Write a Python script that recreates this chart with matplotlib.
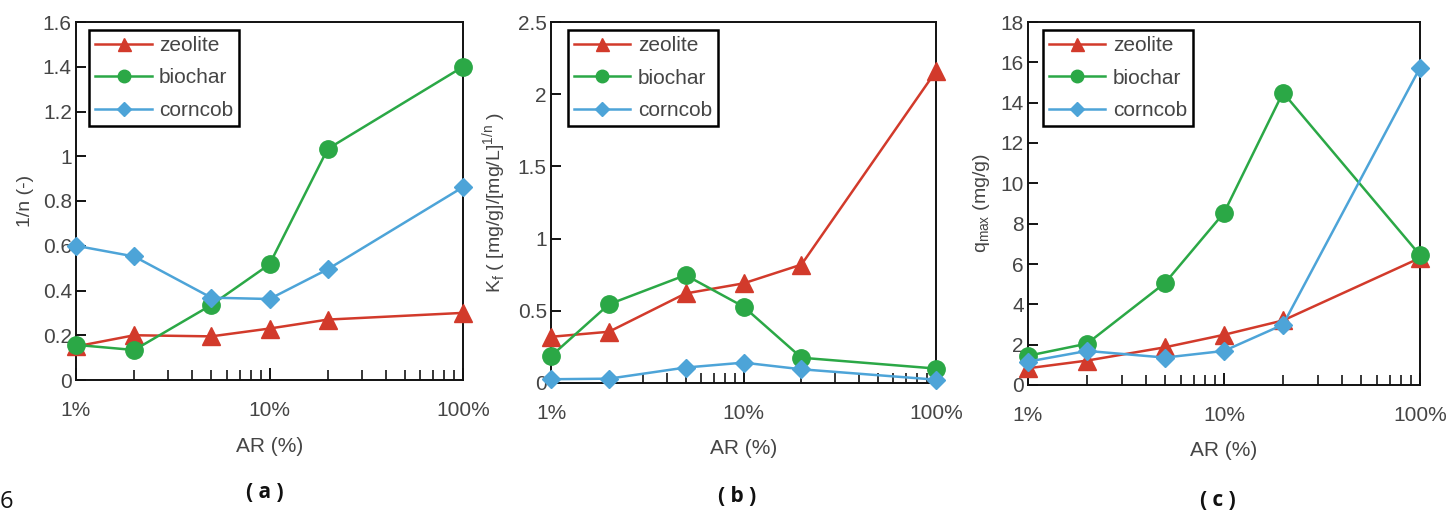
import matplotlib
matplotlib.use("Agg")
import matplotlib.pyplot as plt
from matplotlib.ticker import FixedLocator, FuncFormatter, NullFormatter, LogLocator

plt.rcParams['font.family'] = ['Liberation Sans', 'DejaVu Sans']
plt.rcParams['mathtext.fontset'] = 'custom'
plt.rcParams['mathtext.rm'] = 'Liberation Sans'

# Application rate (%)
ar = [1, 2, 5, 10, 20, 100]

# Freundlich exponent 1/n
n_zeolite = [0.15, 0.20, 0.195, 0.23, 0.27, 0.30]
n_biochar = [0.157, 0.134, 0.335, 0.517, 1.033, 1.40]
n_corncob = [0.60, 0.552, 0.368, 0.362, 0.495, 0.862]

# Freundlich coefficient Kf
kf_zeolite = [0.32, 0.355, 0.62, 0.69, 0.82, 2.16]
kf_biochar = [0.186, 0.545, 0.747, 0.529, 0.175, 0.10]
kf_corncob = [0.026, 0.03, 0.107, 0.141, 0.095, 0.023]

# Langmuir maximum capacity qmax (mg/g)
q_zeolite = [0.83, 1.21, 1.87, 2.49, 3.2, 6.3]
q_biochar = [1.45, 2.05, 5.06, 8.54, 14.5, 6.44]
q_corncob = [1.16, 1.69, 1.36, 1.69, 2.99, 15.73]

x_ticks = [1, 10, 100]
x_ticklabels = ['1%', '10%', '100%']

RED = '#D23A2B'
GREEN = '#2BA846'
BLUE = '#4DA4D8'
TXT = '#454545'

W, H = 1453, 513
fig = plt.figure(figsize=(W / 100, H / 100), dpi=100)


def px_axes(left, right, top, bottom):
    return fig.add_axes([left / W, 1 - bottom / H, (right - left) / W, (bottom - top) / H])


panels = [
    dict(box=(76, 463, 22, 380), data=(n_zeolite, n_biochar, n_corncob),
         ylim=(0, 1.6), yticks=[0, 0.2, 0.4, 0.6, 0.8, 1, 1.2, 1.4, 1.6],
         ylabel='1/n (-)', tag='( a )', leg=(0.034, 0.978), tagx=265, tagy=493),
    dict(box=(551, 936, 22, 383), data=(kf_zeolite, kf_biochar, kf_corncob),
         ylim=(0, 2.5), yticks=[0, 0.5, 1, 1.5, 2, 2.5],
         ylabel=r'K$_{\mathregular{f}}$ ( [mg/g]/[mg/L]$^{\mathregular{1/n}}$ )',
         tag='( b )', leg=(0.044, 0.978), tagx=737, tagy=497),
    dict(box=(1028, 1420, 22, 385), data=(q_zeolite, q_biochar, q_corncob),
         ylim=(0, 18), yticks=list(range(0, 19, 2)),
         ylabel=r'q$_{\mathregular{max}}$ (mg/g)', tag='( c )', leg=(0.038, 0.978),
         tagx=1218, tagy=500),
]

for p in panels:
    ax = px_axes(*p['box'])
    z, b, c = p['data']
    ax.plot(ar, z, color=RED, lw=1.8, marker='^', ms=13, label='zeolite', clip_on=False, zorder=3)
    ax.plot(ar, b, color=GREEN, lw=1.8, marker='o', ms=12.5, label='biochar', clip_on=False, zorder=4)
    ax.plot(ar, c, color=BLUE, lw=1.8, marker='D', ms=9.5, label='corncob', clip_on=False, zorder=5)

    ax.set_xscale('log')
    ax.set_xlim(1, 100)
    ax.set_ylim(*p['ylim'])
    ax.xaxis.set_major_locator(FixedLocator(x_ticks))
    ax.set_xticklabels(x_ticklabels)
    ax.xaxis.set_minor_locator(LogLocator(base=10, subs=range(2, 10)))
    ax.xaxis.set_minor_formatter(NullFormatter())
    ax.set_yticks(p['yticks'])
    ax.yaxis.set_major_formatter(FuncFormatter(lambda v, pos: f'{v:g}'))

    ax.tick_params(axis='x', which='major', direction='in', length=9, width=1.3,
                   pad=15, labelsize=15, labelcolor=TXT)
    ax.tick_params(axis='x', which='minor', direction='in', length=7, width=1.1)
    ax.tick_params(axis='y', which='major', direction='in', length=7, width=1.3,
                   pad=3, labelsize=15, labelcolor=TXT)
    for s in ax.spines.values():
        s.set_linewidth(1.4)
        s.set_color('#111111')

    ax.set_xlabel('AR (%)', fontsize=15, color=TXT, labelpad=12)
    ax.set_ylabel(p['ylabel'], fontsize=14, color=TXT, labelpad=6)

    leg = ax.legend(loc='upper left', bbox_to_anchor=p['leg'], borderaxespad=0,
                    fontsize=15, frameon=True, fancybox=False, framealpha=1,
                    markerscale=0.72, handlelength=2.7, handletextpad=0.35,
                    labelspacing=0.64, borderpad=0.3)
    leg.get_frame().set_edgecolor('black')
    leg.get_frame().set_linewidth(1.8)
    for t in leg.get_texts():
        t.set_color(TXT)

    fig.text(p['tagx'] / W, 1 - p['tagy'] / H, p['tag'], ha='center', va='center',
             fontsize=15, fontweight='bold', family=['Open Sans', 'DejaVu Sans'], color='#111111')

fig.text(0 / W, 1 - 502 / H, '6', ha='left', va='center', fontsize=17,
         family=['Open Sans', 'DejaVu Sans'], color='#111111')

fig.savefig('out.png', dpi=100)
